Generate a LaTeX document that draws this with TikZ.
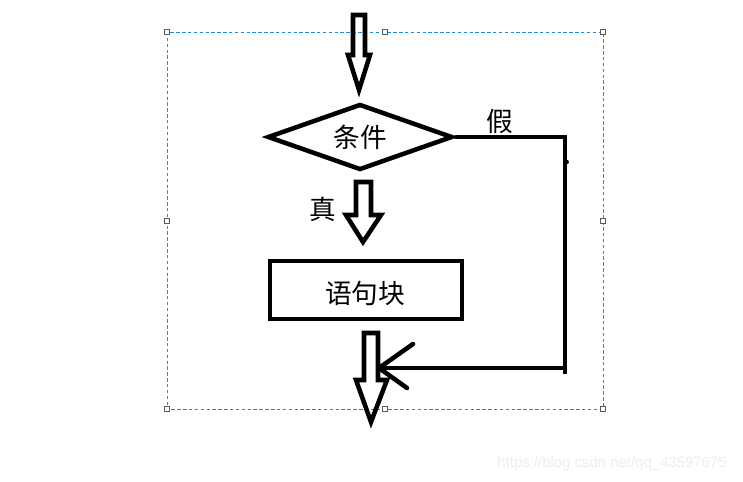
\documentclass[tikz,border=0pt]{standalone}
\usepackage{fontspec}
\newfontfamily\cjk{Noto Sans CJK SC}
\newfontfamily\wmfont{Liberation Sans}
\usetikzlibrary{shapes.geometric}
\definecolor{selblue}{RGB}{30,136,229}
\definecolor{handlegray}{RGB}{90,90,90}
\definecolor{wmgray}{RGB}{238,238,238}
\tikzset{
  thick4/.style={line width=3.4pt, draw=black},
  blockarrow/.style={line width=3.4pt, draw=black, line join=miter},
  lbl/.style={font=\cjk\fontsize{20}{24}\selectfont, inner sep=0pt},
  handle/.style={draw=handlegray, fill=white, line width=0.7pt, minimum size=4.4pt, inner sep=0pt, rectangle},
}
\begin{document}
\begin{tikzpicture}[x=0.75pt,y=-0.75pt]
\useasboundingbox (0,0) rectangle (743,482);
\fill[white] (0,0) rectangle (743,482);
% selection frame
\draw[selblue, line width=0.65pt, dash pattern=on 2.6pt off 1.8pt] (167,32) rectangle (603,409);
\foreach \p [count=\i] in {(167,32),(385,32),(603,32),(167,221),(603,221),(167,409),(385,409),(603,409)}
  \node[handle] (h\i) at \p {};
% top block arrow
\draw[blockarrow] (353,15) -- (365,15) -- (365,55) -- (370,55) -- (359,90) -- (348,55) -- (353,55) -- cycle;
% diamond
\node[thick4, diamond, minimum width=185*0.75pt, minimum height=66*0.75pt, aspect=2.8, inner sep=0pt] (cond) at (360,137) {};
\node[lbl] (condt) at (360,137) {条件};
% false branch
\coordinate (c1) at (565,137);
\coordinate (c2) at (565,374);
\coordinate (c3) at (565,368);
\coordinate (tip) at (379,368);
\draw[thick4] (cond.east) -- (c1) -- (c2);
\draw[thick4] (c3) -- (tip);
\draw[thick4, line cap=round] (tip) -- ++(34,-24);
\draw[thick4, line cap=round] (tip) -- ++(28,20);
\fill (566.5,162) circle (2.4);
\node[lbl] (f) at (500,121) {假};
% second block arrow
\draw[blockarrow] (356,182) -- (371,182) -- (371,215) -- (381,215) -- (363,242) -- (346,215) -- (356,215) -- cycle;
\node[lbl] (t) at (323,209) {真};
% statement block
\node[thick4, rectangle, minimum width=192*0.75pt, minimum height=58*0.75pt, inner sep=0pt] (blk) at (366,290) {};
\node[lbl] (blkt) at (365,293) {语句块};
% bottom block arrow
\draw[blockarrow] (364,333) -- (378,333) -- (378,380) -- (387,380) -- (371,422) -- (356,380) -- (364,380) -- cycle;
% watermark
\node[font=\wmfont\fontsize{11.2}{13}\selectfont, text=wmgray, inner sep=0pt] (wm) at (612,464) {https://blog.csdn.net/qq\_43597675};
\end{tikzpicture}
\end{document}
